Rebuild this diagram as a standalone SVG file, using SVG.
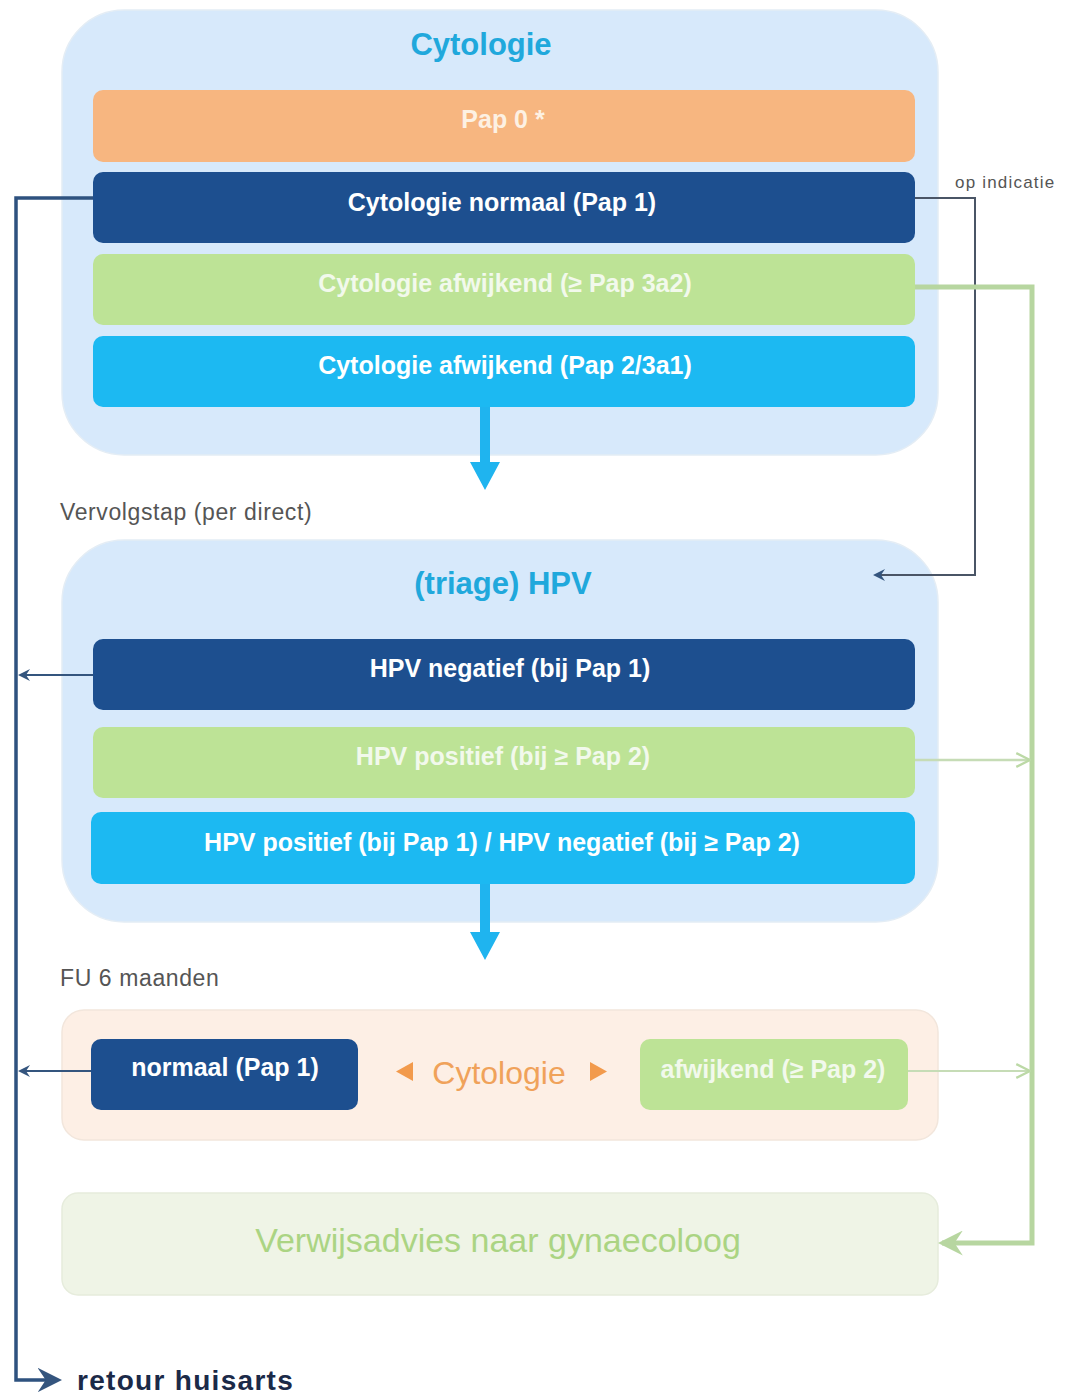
<svg xmlns="http://www.w3.org/2000/svg" width="1067" height="1396" viewBox="0 0 1067 1396">
<style>
.lbl{font-family:"Liberation Sans",Arial,sans-serif;font-weight:bold;font-size:25px;text-anchor:middle;fill:#ffffff}
.title{font-family:"Liberation Sans",Arial,sans-serif;font-weight:bold;font-size:31px;text-anchor:middle;fill:#20a8dc}
.note{font-family:"Liberation Sans",Arial,sans-serif;font-size:23px;letter-spacing:0.6px;fill:#555555}
.cont{fill:#d7e9fb;stroke:#e4edf5;stroke-width:1.5}
.dark{fill:#1d4f8f}
.green{fill:#bde396}
.light{fill:#1cb9f2}
.orange{fill:#f7b680}
</style>
<defs>
<marker id="ah" viewBox="0 0 12 12" refX="10" refY="6" markerWidth="12" markerHeight="12" markerUnits="userSpaceOnUse" orient="auto">
<path d="M0,0 L12,6 L0,12 L4,6 Z" fill="#34557e"/>
</marker>
<marker id="ahBig" viewBox="0 0 12 12" refX="10" refY="6" markerWidth="7" markerHeight="7" orient="auto">
<path d="M0,0 L12,6 L0,12 L4,6 Z" fill="#34557e"/>
</marker>
<marker id="ahG" viewBox="0 0 14 14" refX="13" refY="7" markerWidth="16" markerHeight="16" markerUnits="userSpaceOnUse" orient="auto">
<path d="M1,1 L13,7 L1,13" fill="none" stroke="#bcd9a6" stroke-width="2"/>
</marker>
<marker id="ahGB" viewBox="0 0 12 12" refX="10" refY="6" markerWidth="5" markerHeight="5" orient="auto">
<path d="M0,0 L12,6 L0,12 L4,6 Z" fill="#b7d6a0"/>
</marker>
</defs>

<g id="cytologie">
<rect class="cont" x="62" y="10" width="876" height="445" rx="62"/>
<text class="title" x="481" y="55">Cytologie</text>
</g>
<g id="pap0">
<rect class="orange" x="93" y="90" width="822" height="72" rx="10"/>
<text class="lbl" x="503" y="128" style="fill:#fdf1e3">Pap 0 *</text>
</g>
<g id="cyto-normaal">
<rect class="dark" x="93" y="172" width="822" height="71" rx="10"/>
<text class="lbl" x="502" y="211">Cytologie normaal (Pap 1)</text>
</g>
<g id="cyto-afw-3a2">
<rect class="green" x="93" y="254" width="822" height="71" rx="10"/>
<text class="lbl" x="505" y="292" style="fill:#f2f9ec">Cytologie afwijkend (≥ Pap 3a2)</text>
</g>
<g id="cyto-afw-2">
<rect class="light" x="93" y="336" width="822" height="71" rx="10"/>
<text class="lbl" x="505" y="374">Cytologie afwijkend (Pap 2/3a1)</text>
</g>

<text class="note" x="60" y="520">Vervolgstap (per direct)</text>

<g id="hpv">
<rect class="cont" x="62" y="540" width="876" height="382" rx="62"/>
<text class="title" x="503" y="594">(triage) HPV</text>
</g>
<g id="hpv-neg">
<rect class="dark" x="93" y="639" width="822" height="71" rx="10"/>
<text class="lbl" x="510" y="677">HPV negatief (bij Pap 1)</text>
</g>
<g id="hpv-pos">
<rect class="green" x="93" y="727" width="822" height="71" rx="10"/>
<text class="lbl" x="503" y="765" style="fill:#f2f9ec">HPV positief (bij ≥ Pap 2)</text>
</g>
<g id="hpv-mixed">
<rect class="light" x="91" y="812" width="824" height="72" rx="10"/>
<text class="lbl" x="502" y="851">HPV positief (bij Pap 1) / HPV negatief (bij ≥ Pap 2)</text>
</g>

<text class="note" x="60" y="986">FU 6 maanden</text>

<g id="fu">
<rect x="62" y="1010" width="876" height="130" rx="22" fill="#fdefe5" stroke="#f2e6dc" stroke-width="1.5"/>
<path d="M413,1062 L413,1081 L396,1071.5 Z" fill="#f29a4c"/>
<text x="499" y="1084" style="font-family:'Liberation Sans',Arial,sans-serif;font-size:32px;fill:#f0a25a;text-anchor:middle">Cytologie</text>
<path d="M590,1062 L590,1081 L607,1071.5 Z" fill="#f29a4c"/>
</g>
<g id="fu-normaal">
<rect class="dark" x="91" y="1039" width="267" height="71" rx="10"/>
<text class="lbl" x="225" y="1076">normaal (Pap 1)</text>
</g>
<g id="fu-afw">
<rect class="green" x="640" y="1039" width="268" height="71" rx="10"/>
<text class="lbl" x="773" y="1078" style="fill:#f2f9ec">afwijkend (≥ Pap 2)</text>
</g>

<g id="verwijs">
<rect x="62" y="1193" width="876" height="102" rx="16" fill="#eff4e6" stroke="#e6ecdc" stroke-width="1.5"/>
<text x="498" y="1252" style="font-family:'Liberation Sans',Arial,sans-serif;font-size:34px;fill:#abd483;text-anchor:middle">Verwijsadvies naar gynaecoloog</text>
</g>

<g id="retour">
<text x="77" y="1390" style="font-family:'Liberation Sans',Arial,sans-serif;font-weight:bold;font-size:28px;letter-spacing:1.3px;fill:#1b2a48">retour huisarts</text>
</g>

<g id="connectors" fill="none">
<path d="M480,407 L490,407 L490,462 L500,462 L485,490 L470,462 L480,462 Z" fill="#1fb4ef"/>
<path d="M480,884 L490,884 L490,932 L500,932 L485,960 L470,932 L480,932 Z" fill="#1fb4ef"/>
<path d="M93,198 L16,198 L16,1380 L58,1380" stroke="#2e527f" stroke-width="3.5" marker-end="url(#ahBig)"/>
<path d="M93,675 L20,675" stroke="#34557e" stroke-width="2" marker-end="url(#ah)"/>
<path d="M91,1071 L20,1071" stroke="#34557e" stroke-width="2" marker-end="url(#ah)"/>
<path d="M915,198 L975,198 L975,575 L875,575" stroke="#4a5566" stroke-width="2" marker-end="url(#ah)"/>
<path d="M915,287 L1032,287 L1032,1243 L942,1243" stroke="#b7d6a0" stroke-width="5" marker-end="url(#ahGB)"/>
<path d="M915,760 L1030,760" stroke="#c6dcb6" stroke-width="2.5" marker-end="url(#ahG)"/>
<path d="M908,1071 L1030,1071" stroke="#c6dcb6" stroke-width="2" marker-end="url(#ahG)"/>
</g>
<text x="955" y="188" style="font-family:'Liberation Sans',Arial,sans-serif;font-size:17px;fill:#555555;letter-spacing:1.2px">op indicatie</text>
</svg>
